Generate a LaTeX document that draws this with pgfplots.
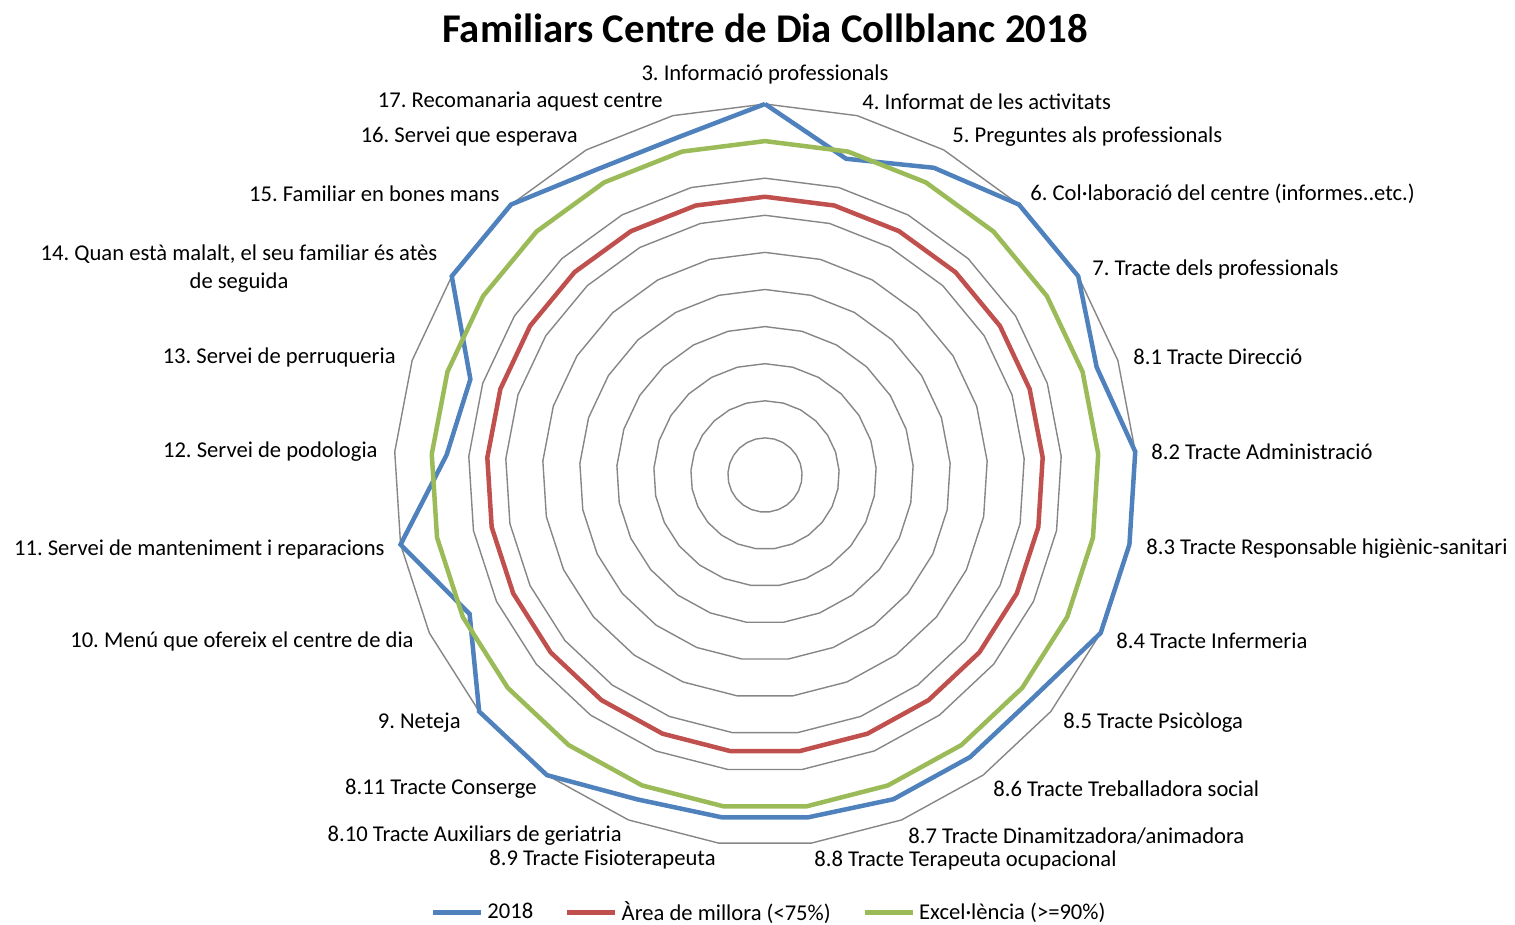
\documentclass[border=0pt]{standalone}
\usepackage{fontspec}
\setmainfont{Carlito}
\usepackage{pgfplots}
\pgfplotsset{compat=1.18}
\usepgfplotslibrary{polar}
\definecolor{s2018}{HTML}{4F81BD}
\definecolor{smill}{HTML}{C0504D}
\definecolor{sexc}{HTML}{9BBB59}
\definecolor{gridc}{HTML}{868686}
\frenchspacing

\begin{document}
\begin{tikzpicture}[x=0.5pt,y=-0.5pt,
  lab/.style={font=\fontsize{11.3}{14}\selectfont, inner sep=0pt, yshift=-1pt}]
\path[use as bounding box] (0,0) rectangle (1515,925);

% rings every 10%
\foreach \r in {1,...,10}
  \draw[gridc, line width=0.7pt] plot[samples at={0,...,24}, variable=\k]
    ({765+37.1*\r*sin(14.4*\k)},{475-37.1*\r*cos(14.4*\k)}) -- cycle;

\node[font=\fontsize{20.4}{24}\selectfont\bfseries, inner sep=0pt] at (765,28) {Familiars Centre de Dia Collblanc 2018};

% category labels
\node[lab] at (765,72) {3. Informació professionals};
\node[lab, anchor=west] at (862,100) {4. Informat de les activitats};
\node[lab, anchor=west] at (952,135) {5. Preguntes als professionals};
\node[lab, anchor=west] at (1030,192) {6. Col·laboració del centre (informes..etc.)};
\node[lab, anchor=west] at (1092,267) {7. Tracte dels professionals};
\node[lab, anchor=west] at (1133,355) {8.1 Tracte Direcció};
\node[lab, anchor=west] at (1151,450) {8.2 Tracte Administració};
\node[lab, anchor=west] at (1146,547) {8.3 Tracte Responsable higiènic-sanitari};
\node[lab, anchor=west] at (1116,639) {8.4 Tracte Infermeria};
\node[lab, anchor=west] at (1063,721) {8.5 Tracte Psicòloga};
\node[lab, anchor=west] at (993,787) {8.6 Tracte Treballadora social};
\node[lab, anchor=west] at (908,834) {8.7 Tracte Dinamitzadora/animadora};
\node[lab, anchor=west] at (814,858) {8.8 Tracte Terapeuta ocupacional};
\node[lab, anchor=east] at (716,858) {8.9 Tracte Fisioterapeuta};
\node[lab, anchor=east] at (622,834) {8.10 Tracte Auxiliars de geriatria};
\node[lab, anchor=east] at (537,787) {8.11 Tracte Conserge};
\node[lab, anchor=east] at (461,721) {9. Neteja};
\node[lab, anchor=east] at (414,639) {10. Menú que ofereix el centre de dia};
\node[lab, anchor=east] at (385,547) {11. Servei de manteniment i reparacions};
\node[lab, anchor=east] at (378,450) {12. Servei de podologia};
\node[lab, anchor=east] at (396,355) {13. Servei de perruqueria};
\node[lab, align=center] at (239,267) {14. Quan està malalt, el seu familiar és atès\\de seguida};
\node[lab, anchor=east] at (500,192) {15. Familiar en bones mans};
\node[lab, anchor=east] at (578,135) {16. Servei que esperava};
\node[lab, anchor=east] at (663,100) {17. Recomanaria aquest centre};

\begin{axis}[
  at={(382.5pt,-237.5pt)}, anchor=origin,
  x=185.5pt, y=185.5pt,
  xmin=-1, xmax=1, ymin=-1, ymax=1,
  hide axis, clip=false,
  legend columns=3,
  legend image code/.code={\draw[#1] (0pt,0pt) -- (24pt,0pt);},
  legend style={draw=none, fill=none, at={(0.507,-0.0895)}, anchor=center,
    font=\fontsize{11.3}{13}\selectfont,
    /tikz/every even column/.append style={column sep=14pt}},
]
\addplot[s2018, line width=2.25pt, data cs=polar] coordinates {
  (90,1.00) (75.6,0.88) (61.2,0.945) (46.8,1.00) (32.4,1.00)
  (18,0.94) (3.6,1.00) (-10.8,1.00) (-25.2,1.00) (-39.6,0.94)
  (-54,0.94) (-68.4,0.94) (-82.8,0.93) (-97.2,0.93) (-111.6,0.94)
  (-126,1.00) (-140.4,1.00) (-154.8,0.88) (-169.2,1.00) (-183.6,0.86)
  (-198,0.835) (-212.4,1.00) (-226.8,1.00) (-241.2,0.94) (-255.6,0.94)
  (-270,1.00)
};
\addlegendentry{2018}
\addplot[smill, line width=2.25pt, data cs=polar] coordinates {
  (90,0.75) (75.6,0.75) (61.2,0.75) (46.8,0.75) (32.4,0.75)
  (18,0.75) (3.6,0.75) (-10.8,0.75) (-25.2,0.75) (-39.6,0.75)
  (-54,0.75) (-68.4,0.75) (-82.8,0.75) (-97.2,0.75) (-111.6,0.75)
  (-126,0.75) (-140.4,0.75) (-154.8,0.75) (-169.2,0.75) (-183.6,0.75)
  (-198,0.75) (-212.4,0.75) (-226.8,0.75) (-241.2,0.75) (-255.6,0.75)
  (-270,0.75)
};
\addlegendentry{Àrea de millora (<75\%)}
\addplot[sexc, line width=2.25pt, data cs=polar] coordinates {
  (90,0.90) (75.6,0.90) (61.2,0.90) (46.8,0.90) (32.4,0.90)
  (18,0.90) (3.6,0.90) (-10.8,0.90) (-25.2,0.90) (-39.6,0.90)
  (-54,0.90) (-68.4,0.90) (-82.8,0.90) (-97.2,0.90) (-111.6,0.90)
  (-126,0.90) (-140.4,0.90) (-154.8,0.90) (-169.2,0.90) (-183.6,0.90)
  (-198,0.90) (-212.4,0.90) (-226.8,0.90) (-241.2,0.90) (-255.6,0.90)
  (-270,0.90)
};
\addlegendentry{Excel·lència (>=90\%)}
\end{axis}
\end{tikzpicture}
\end{document}
